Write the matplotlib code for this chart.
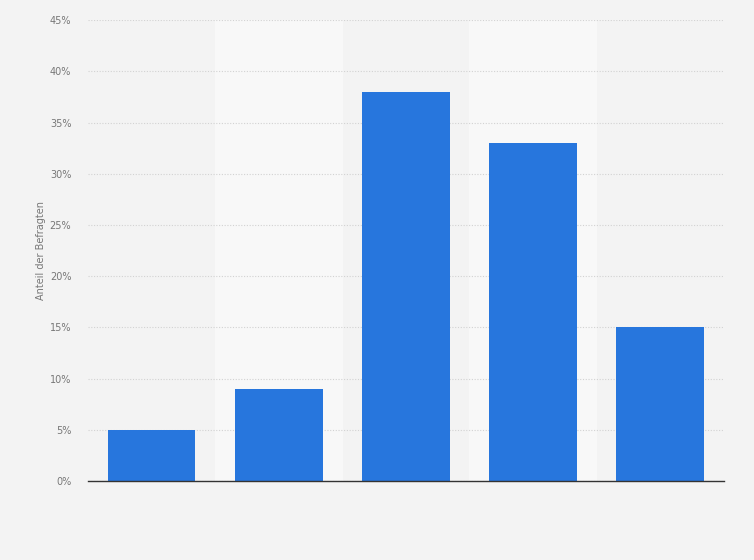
import matplotlib
matplotlib.use('Agg')
import matplotlib.pyplot as plt
import numpy as np

# Werte (Anteil der Befragten in %)
categories = ['1', '2', '3', '4', '5']
values = [5, 9, 38, 33, 15]
y_ticks = [0, 5, 10, 15, 20, 25, 30, 35, 40, 45]

fig = plt.figure(figsize=(7.54, 5.6), dpi=100)
fig.patch.set_facecolor('#f3f3f3')
ax = fig.add_axes([0.1167, 0.141, 0.843, 0.823])
ax.set_facecolor('#f3f3f3')

x = np.arange(len(categories))

# alternating lighter column bands
for i in x:
    if i % 2 == 1:
        ax.axvspan(i - 0.5, i + 0.5, color='#f8f8f8', zorder=0)

ax.bar(x, values, width=0.69, color='#2776dd', zorder=3)

ax.set_xlim(-0.5, len(categories) - 0.5)
ax.set_ylim(0, 45)
ax.set_yticks(y_ticks)
ax.set_yticklabels([f'{t}%' for t in y_ticks])
ax.set_xticks([])

ax.yaxis.grid(True, color='#d2d2d2', linestyle=(0, (1, 1.5)), linewidth=0.8, zorder=1)
ax.set_axisbelow(True)

for s in ['top', 'right', 'left']:
    ax.spines[s].set_visible(False)
ax.spines['bottom'].set_color('#333333')
ax.spines['bottom'].set_linewidth(1.0)
ax.spines['bottom'].set_zorder(4)

ax.tick_params(axis='y', length=0, labelsize=7, labelcolor='#777777', pad=12)
ax.set_ylabel('Anteil der Befragten', fontsize=7, color='#777777', labelpad=2.5)

fig.savefig('out.png', dpi=100, facecolor=fig.get_facecolor())
